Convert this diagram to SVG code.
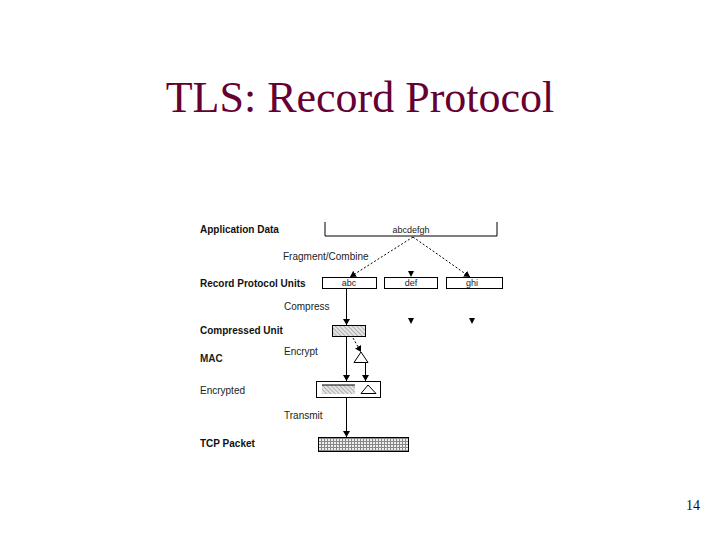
<svg xmlns="http://www.w3.org/2000/svg" width="720" height="540" viewBox="0 0 720 540">
<defs>
<style>
.title{font-family:"Liberation Serif","Times New Roman",serif;font-size:44px;fill:#660033}
.pg{font-family:"Liberation Serif","Times New Roman",serif;font-size:14px;fill:#0a0a33}
.lb{font-family:"Liberation Sans",Arial,sans-serif;font-size:10px;fill:#111;font-weight:bold}
.ln{font-family:"Liberation Sans",Arial,sans-serif;font-size:10px;fill:#222}
.in{font-family:"Liberation Sans",Arial,sans-serif;font-size:9px;fill:#222}
.box{fill:#fff;stroke:#000;stroke-width:1}
.solid{stroke:#000;stroke-width:1;fill:none}
.dash{stroke:#000;stroke-width:1;fill:none;stroke-dasharray:2,2}
.head{fill:#000}
</style>
<pattern id="hatch" width="3" height="3" patternUnits="userSpaceOnUse" patternTransform="rotate(-45)">
<rect width="3" height="3" fill="#e6e6e6"/>
<line x1="0" y1="0" x2="0" y2="3" stroke="#888" stroke-width="1.2"/>
</pattern>
<pattern id="grid" width="3" height="3" patternUnits="userSpaceOnUse">
<rect width="3" height="3" fill="#eee"/>
<path d="M0,0.5 H3 M0.5,0 V3" stroke="#888" stroke-width="1"/>
</pattern>
<marker id="arr" markerWidth="7" markerHeight="7" refX="6" refY="3.5" orient="auto" markerUnits="userSpaceOnUse">
<path d="M0,0 L6,3.5 L0,7 z" fill="#000"/>
</marker>
</defs>
<rect width="720" height="540" fill="#fff"/>
<text class="title" x="360" y="112" text-anchor="middle">TLS: Record Protocol</text>
<text class="pg" x="693" y="510" text-anchor="middle">14</text>

<g id="labels">
<text class="lb" x="200" y="233">Application Data</text>
<text class="lb" x="200" y="287">Record Protocol Units</text>
<text class="lb" x="200" y="334">Compressed Unit</text>
<text class="ln" x="200" y="362" font-weight="bold">MAC</text>
<text class="ln" x="200" y="394">Encrypted</text>
<text class="lb" x="200" y="447">TCP Packet</text>
<text class="ln" x="283" y="260">Fragment/Combine</text>
<text class="ln" x="284" y="310">Compress</text>
<text class="ln" x="284" y="355">Encrypt</text>
<text class="ln" x="284" y="419">Transmit</text>
</g>

<g id="app-data">
<path class="solid" d="M325,222 V236 H497 V222"/>
<text class="in" x="411" y="233" text-anchor="middle">abcdefgh</text>
</g>
<g id="unit-abc">
<rect class="box" x="322.5" y="277.5" width="54" height="11"/>
<text class="in" x="349" y="286" text-anchor="middle">abc</text>
</g>
<g id="unit-def">
<rect class="box" x="384.5" y="277.5" width="53" height="11"/>
<text class="in" x="411" y="286" text-anchor="middle">def</text>
</g>
<g id="unit-ghi">
<rect class="box" x="446.5" y="277.5" width="56" height="11"/>
<text class="in" x="472" y="286" text-anchor="middle">ghi</text>
</g>
<g id="compressed">
<rect x="332.5" y="325.5" width="33" height="11" fill="url(#hatch)" stroke="#000"/>
</g>
<g id="mac">
<path d="M361,352 L354,362.5 H368 Z" fill="#fff" stroke="#000"/>
</g>
<g id="encrypted">
<rect class="box" x="316.5" y="381.5" width="64" height="16"/>
<rect x="322" y="385" width="33" height="9" fill="url(#hatch)"/>
<line x1="322" y1="385" x2="355" y2="385" stroke="#000" stroke-width="1.2"/>
<path d="M368,385 L361,393.5 H376 Z" fill="#fff" stroke="#000"/>
</g>
<g id="tcp">
<rect x="318.5" y="437.5" width="90" height="14" fill="url(#grid)" stroke="#000"/>
</g>

<g id="connectors">
<path class="dash" d="M413,237 L350,277" marker-end="url(#arr)"/>
<path class="dash" d="M413,237 L470,277" marker-end="url(#arr)"/>
<path class="head" d="M408,271 H414 L411,277 Z"/>
<path class="solid" d="M346.5,289 V325" marker-end="url(#arr)"/>
<path class="head" d="M408,318 H414 L411,324 Z"/>
<path class="head" d="M469,318 H475 L472,324 Z"/>
<path class="solid" d="M346.5,337 V381" marker-end="url(#arr)"/>
<path class="dash" d="M353,338 L361,352" marker-end="url(#arr)"/>
<path class="solid" d="M365.5,363 V381" marker-end="url(#arr)"/>
<path class="solid" d="M346.5,398 V437" marker-end="url(#arr)"/>
</g>
</svg>
